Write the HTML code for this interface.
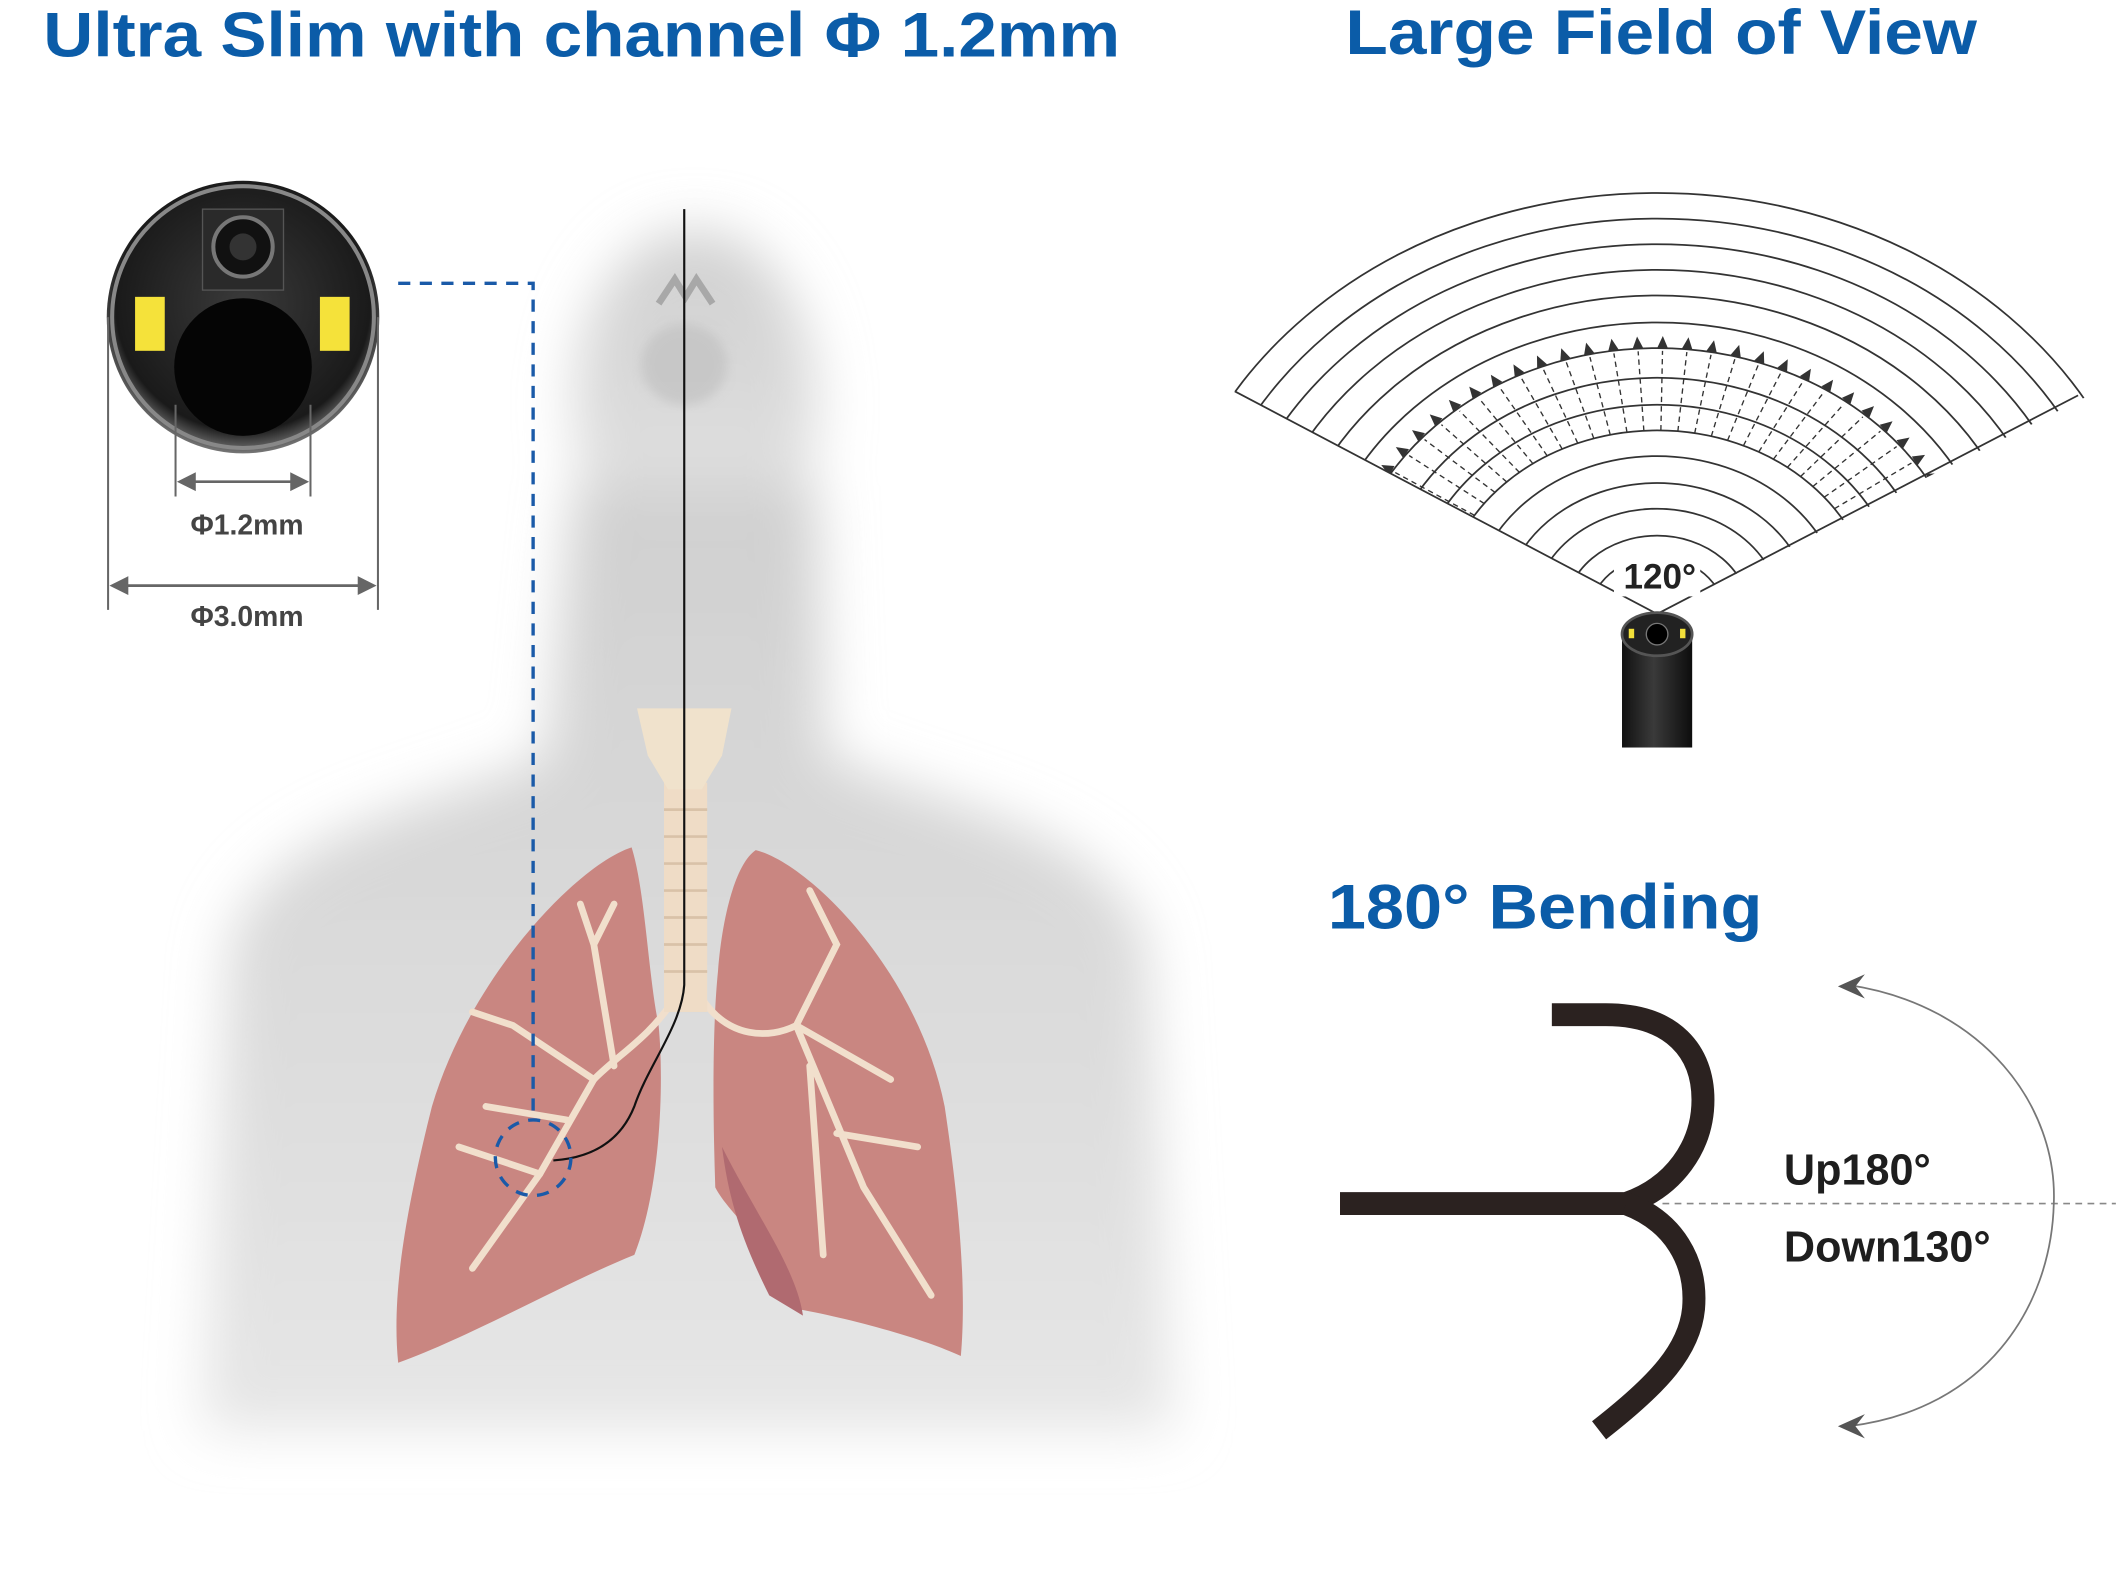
<!DOCTYPE html>
<html><head><meta charset="utf-8"><style>
html,body{margin:0;padding:0;background:#fff;}
svg{display:block;}
text{font-family:"Liberation Sans",sans-serif;font-weight:bold;}
</style></head><body>
<svg id="s" width="2116" height="1576" viewBox="0 0 1568 1168" xmlns="http://www.w3.org/2000/svg">
<defs>
<filter id="blur" x="-20%" y="-20%" width="140%" height="140%"><feGaussianBlur stdDeviation="20"/></filter>
<filter id="blur2"><feGaussianBlur stdDeviation="4"/></filter>
<radialGradient id="cam" cx="50%" cy="45%" r="55%"><stop offset="0" stop-color="#3a3a3a"/><stop offset="0.85" stop-color="#1a1a1a"/><stop offset="1" stop-color="#777"/></radialGradient>
<linearGradient id="tube" x1="0" x2="1"><stop offset="0" stop-color="#111"/><stop offset="0.45" stop-color="#3a3a3a"/><stop offset="1" stop-color="#0d0d0d"/></linearGradient>
<linearGradient id="bodyg" x1="0" y1="0" x2="0" y2="1"><stop offset="0" stop-color="#d0d0d0"/><stop offset="0.5" stop-color="#dadada"/><stop offset="1" stop-color="#e6e6e6"/></linearGradient>
<clipPath id="fanclip"><polygon points="1228,455 900,282 900,100 1560,100 1560,287"/></clipPath>
</defs>

<!-- titles -->
<text x="32" y="42" font-size="47" fill="#0b5ca8" textLength="798" lengthAdjust="spacingAndGlyphs">Ultra Slim with channel Φ 1.2mm</text>
<text x="997" y="40" font-size="47" fill="#0b5ca8" textLength="468" lengthAdjust="spacingAndGlyphs">Large Field of View</text>
<text x="984" y="688" font-size="47" fill="#0b5ca8" textLength="322" lengthAdjust="spacingAndGlyphs">180° Bending</text>

<!-- body silhouette -->
<g filter="url(#blur)" fill="url(#bodyg)">
<ellipse cx="515" cy="300" rx="90" ry="130"/>
<path d="M425,360 L605,360 L612,560 C700,600 820,610 850,700 L870,1060 L150,1060 L170,700 C200,610 320,600 405,560 Z"/>
</g>
<ellipse cx="507" cy="270" rx="32" ry="30" fill="#c4c4c4" opacity="0.8" filter="url(#blur2)"/>
<path d="M488,225 L500,207 L508,220 L516,207 L528,225" fill="none" stroke="#a8a8a8" stroke-width="5"/>

<!-- lungs -->
<path d="M468,628 C430,640 350,720 320,820 C300,900 290,960 295,1010 C350,990 420,950 470,930 C490,880 492,800 488,760 C480,720 478,660 468,628 Z" fill="#c98681"/>
<path d="M560,630 C600,640 680,720 700,820 C712,900 716,960 712,1005 C680,990 620,975 590,970 C570,920 540,900 530,880 C528,820 528,760 532,720 C535,680 545,640 560,630 Z" fill="#c98681"/>
<path d="M535,850 C560,900 590,940 595,975 L570,960 C550,920 540,890 535,850Z" fill="#b06a70"/>
<g fill="none" stroke="#f1dfcc" stroke-width="5" stroke-linecap="round">
<path d="M500,740 C480,770 460,780 440,800 L400,870 L350,940"/>
<path d="M455,790 L440,700 L455,670 M440,700 L430,670"/>
<path d="M440,800 L380,760 L350,750 M400,870 L340,850 M420,830 L360,820"/>
<path d="M520,740 C540,770 570,770 590,760 L620,700 L600,660 M590,760 L660,800 M590,760 L640,880 L690,960 M620,840 L680,850 M600,790 L610,930"/>
</g>
<rect x="492" y="580" width="32" height="170" fill="#efdcc6"/>
<g stroke="#d9c2a8" stroke-width="2">
<line x1="492" y1="600" x2="524" y2="600"/><line x1="492" y1="620" x2="524" y2="620"/><line x1="492" y1="640" x2="524" y2="640"/><line x1="492" y1="660" x2="524" y2="660"/><line x1="492" y1="680" x2="524" y2="680"/><line x1="492" y1="700" x2="524" y2="700"/><line x1="492" y1="720" x2="524" y2="720"/>
</g>
<path d="M472,525 L542,525 L535,560 L520,585 L495,585 L480,560 Z" fill="#f0e2cc"/>

<path d="M507,155 L507,730 C505,760 480,790 470,820 C460,845 440,858 410,860" fill="none" stroke="#111" stroke-width="1.6"/>

<path d="M295,210 L395,210 L395,830" fill="none" stroke="#1a5aa8" stroke-width="2.5" stroke-dasharray="9,7"/>
<circle cx="395" cy="858" r="28" fill="none" stroke="#1a5aa8" stroke-width="2.5" stroke-dasharray="9,7"/>

<circle cx="180" cy="235" r="101" fill="url(#cam)"/>
<circle cx="180" cy="235" r="97" fill="none" stroke="#888" stroke-width="3"/>
<rect x="150" y="155" width="60" height="60" fill="#2a2a2a" stroke="#555"/>
<circle cx="180" cy="183" r="22" fill="#111" stroke="#777" stroke-width="3"/>
<circle cx="180" cy="183" r="10" fill="#333"/>
<circle cx="180" cy="272" r="51" fill="#050505"/>
<rect x="100" y="220" width="22" height="40" fill="#f5e23a"/>
<rect x="237" y="220" width="22" height="40" fill="#f5e23a"/>
<g stroke="#666" stroke-width="1.5" fill="none">
<line x1="80" y1="235" x2="80" y2="452"/><line x1="280" y1="235" x2="280" y2="452"/>
<line x1="130" y1="300" x2="130" y2="368"/><line x1="230" y1="300" x2="230" y2="368"/>
<line x1="140" y1="357" x2="220" y2="357" stroke-width="2"/>
<line x1="90" y1="434" x2="270" y2="434" stroke-width="2"/>
</g>
<g fill="#666">
<path d="M131,357 L145,350 L145,364Z"/><path d="M229,357 L215,350 L215,364Z"/>
<path d="M81,434 L95,427 L95,441Z"/><path d="M279,434 L265,427 L265,441Z"/>
</g>
<text x="183" y="396" font-size="21" fill="#444" text-anchor="middle">Φ1.2mm</text>
<text x="183" y="464" font-size="21" fill="#444" text-anchor="middle">Φ3.0mm</text>

<g id="fan" clip-path="url(#fanclip)" fill="none" stroke="#333" stroke-width="1.3"></g>
<line x1="1228" y1="455" x2="915" y2="290" stroke="#333" stroke-width="1.3"/>
<line x1="1228" y1="455" x2="1540" y2="293" stroke="#333" stroke-width="1.3"/>
<rect x="1196" y="408" width="64" height="34" fill="#fff"/>
<text x="1230" y="436" font-size="26" fill="#222" text-anchor="middle">120°</text>
<rect x="1202" y="470" width="52" height="84" fill="url(#tube)"/>
<ellipse cx="1228" cy="470" rx="26" ry="16" fill="#222" stroke="#555" stroke-width="2"/>
<circle cx="1228" cy="470" r="8" fill="#000" stroke="#777"/>
<rect x="1207" y="466" width="4" height="7" fill="#f3e03a"/><rect x="1245" y="466" width="4" height="7" fill="#f3e03a"/>

<g fill="none" stroke="#2b2220" stroke-width="17">
<path d="M993,892 L1205,892 C1240,880 1262,850 1262,815 C1262,780 1240,752 1190,752 L1150,752"/>
<path d="M1205,892 C1240,905 1258,935 1255,970 C1252,1000 1230,1025 1185,1060"/>
</g>
<line x1="1232" y1="892" x2="1568" y2="892" stroke="#888" stroke-width="1.2" stroke-dasharray="5,4"/>
<path d="M1370,730 C1470,745 1525,820 1522,892 C1520,970 1470,1045 1370,1057" fill="none" stroke="#777" stroke-width="1.3"/>
<path d="M1362,731 L1382,722 L1375,731 L1382,740Z" fill="#555"/>
<path d="M1362,1057 L1382,1048 L1375,1057 L1382,1066Z" fill="#555"/>
<text x="1322" y="878" font-size="32" fill="#1e1e1e">Up180°</text>
<text x="1322" y="935" font-size="32" fill="#1e1e1e">Down130°</text>
</svg>
<script>
(function(){
var g=document.getElementById('fan'),ns='http://www.w3.org/2000/svg';
var cx=1228,cy=455,sx=1.18;
function arc(r,dash){var e=document.createElementNS(ns,'ellipse');e.setAttribute('cx',cx);e.setAttribute('cy',cy);e.setAttribute('rx',r*sx);e.setAttribute('ry',r);if(dash)e.setAttribute('stroke-dasharray',dash);g.appendChild(e);}
[312,293,274,255,236,216,197,175,155,136,117,97,78,58].forEach(function(r){arc(r);});
arc(42);
for(var a=-62;a<=62;a+=4.5){var t=a*Math.PI/180;var l=document.createElementNS(ns,'line');
l.setAttribute('x1',cx+136*sx*Math.sin(t));l.setAttribute('y1',cy-136*Math.cos(t));
l.setAttribute('x2',cx+195*sx*Math.sin(t));l.setAttribute('y2',cy-195*Math.cos(t));
l.setAttribute('stroke-dasharray','4,3');l.setAttribute('stroke-width','1');g.appendChild(l);
var px=cx+201*sx*Math.sin(t),py=cy-201*Math.cos(t);var ang=Math.atan2(-Math.cos(t),sx*Math.sin(t))*180/Math.PI;
var p=document.createElementNS(ns,'path');p.setAttribute('d','M5,0 L-4,-4 L-4,4Z');p.setAttribute('fill','#333');p.setAttribute('stroke','none');
p.setAttribute('transform','translate('+px+','+py+') rotate('+ang+')');g.appendChild(p);}
})();
</script>
</body></html>
